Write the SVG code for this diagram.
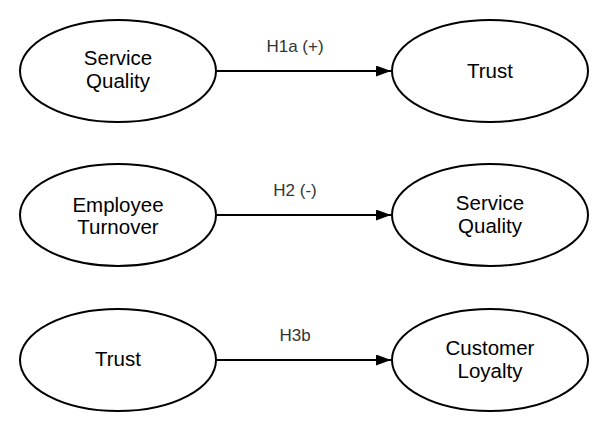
<svg xmlns="http://www.w3.org/2000/svg" width="600" height="421" viewBox="0 0 600 421">
<style>
.n{fill:#fff;stroke:#000;stroke-width:2}
.t{font-family:"Liberation Sans",Arial,sans-serif;font-size:20.5px;fill:#000;text-anchor:middle}
.l{font-family:"Liberation Sans",Arial,sans-serif;font-size:17px;fill:#333;text-anchor:middle}
.c{stroke:#000;stroke-width:2;fill:none;marker-end:url(#a)}
</style>
<defs><marker id="a" markerWidth="15" markerHeight="11" refX="15" refY="5.5" orient="auto" markerUnits="userSpaceOnUse"><path d="M0,0L15,5.5L0,11z" fill="#000"/></marker></defs>
<rect width="600" height="421" fill="#fff"/>
<g id="connectors">
<line class="c" x1="216" y1="71" x2="391" y2="71"/>
<line class="c" x1="216" y1="215" x2="391" y2="215"/>
<line class="c" x1="216" y1="360" x2="391" y2="360"/>
<text class="l" x="295" y="52">H1a (+)</text>
<text class="l" x="295" y="196">H2 (-)</text>
<text class="l" x="295" y="341">H3b</text>
</g>
<g id="sq1"><ellipse class="n" cx="118" cy="71" rx="98" ry="51"/><text class="t" x="118" y="65">Service</text><text class="t" x="118" y="88">Quality</text></g>
<g id="trust1"><ellipse class="n" cx="490" cy="71" rx="98" ry="51"/><text class="t" x="490" y="78">Trust</text></g>
<g id="turnover"><ellipse class="n" cx="118" cy="215" rx="98" ry="51"/><text class="t" x="118" y="212">Employee</text><text class="t" x="118" y="234">Turnover</text></g>
<g id="sq2"><ellipse class="n" cx="490" cy="215" rx="98" ry="51"/><text class="t" x="490" y="210">Service</text><text class="t" x="490" y="233">Quality</text></g>
<g id="trust2"><ellipse class="n" cx="118" cy="360" rx="98" ry="51"/><text class="t" x="118" y="366">Trust</text></g>
<g id="loyalty"><ellipse class="n" cx="490" cy="360" rx="98" ry="51"/><text class="t" x="490" y="355">Customer</text><text class="t" x="490" y="378">Loyalty</text></g>
</svg>
